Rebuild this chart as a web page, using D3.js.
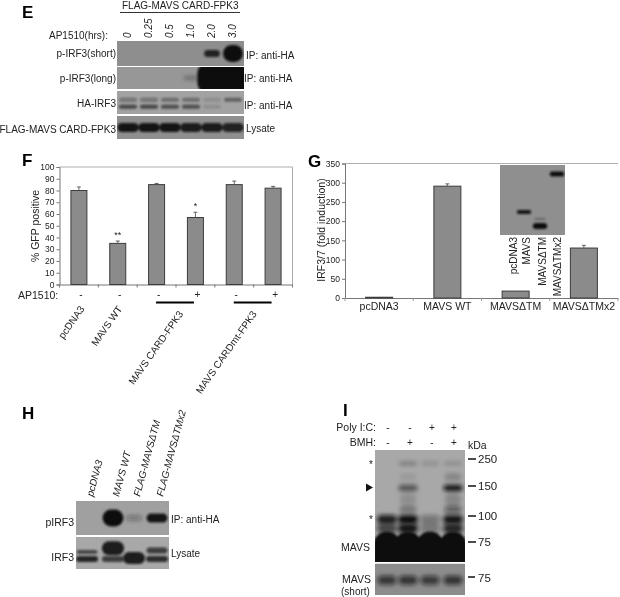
<!DOCTYPE html>
<html>
<head>
<meta charset="utf-8">
<script src="https://d3js.org/d3.v7.min.js"></script>
<style>
  html, body { margin: 0; padding: 0; background: #fff; }
  svg { display: block; filter: blur(0.4px); }
  text { font-family: "Liberation Sans", Arial, sans-serif; fill: #222; }
</style>
</head>
<body>
<svg width="620" height="597"></svg>
<script>

// panel F
var gfpNames = ["pcDNA3", "MAVS WT", "MAVS CARD-FPK3", "", "MAVS CARDmt-FPK3", ""];
var gfpValues = [80, 35, 85, 57, 85, 82];
var gfpErrors = [3, 2, 1, 4.5, 3, 1.5];
var gfpStars = ["", "**", "", "*", "", ""];
var gfpDrug = ["-", "-", "-", "+", "-", "+"];

// panel G
var irfNames = ["pcDNA3", "MAVS WT", "MAVS\u0394TM", "MAVS\u0394TMx2"];
var irfValues = [2, 291, 18, 130];
var irfErrors = [0, 6, 0, 7];
var insetNames = ["pcDNA3", "MAVS", "MAVS\u0394TM", "MAVS\u0394TMx2"];

// blots: band strength per lane, one array per band
var eHours = ["0", "0.25", "0.5", "1.0", "2.0", "3.0"];
var eShort = [0, 0, 0, 0, 0.85, 1];
var eLong = [0, 0, 0, 0.3, 1, 1];
var eHaUpper = [0.35, 0.35, 0.33, 0.33, 0.12, 0.4];
var eHaLower = [0.65, 0.65, 0.6, 0.6, 0.12, 0];
var eLysate = [0.95, 0.95, 0.95, 0.9, 0.9, 0.85];
var gInset = [0, 0.95, 1, 1];
var hNames = ["pcDNA3", "MAVS WT", "FLAG-MAVS\u0394TM", "FLAG-MAVS\u0394TMx2"];
var hPhospho = [0, 1, 0.35, 0.95];
var hUpper = [0.65, 0.9, 0, 0.7];
var hLower = [0.85, 0.7, 0.9, 0.8];
var iPoly = ["-", "-", "+", "+"];
var iBmh = ["-", "+", "-", "+"];
var iKda250 = [0, 0.28, 0.16, 0.18];
var iKda190 = [0, 0.08, 0, 0.2];
var iKda150 = [0, 0.6, 0, 1];
var iKda130 = [0, 0.15, 0, 0.2];
var iKda120 = [0, 0.3, 0, 0.5];
var iKda100 = [0.9, 1, 0.35, 0.95];
var iKda95 = [0.65, 0.95, 0.35, 0.85];
var iKda75 = [1, 1, 1, 1];
var iShort = [0.7, 0.72, 0.68, 0.72];
var iMarkers = ["250", "150", "100", "75"];
var iMarkerKda = [250, 150, 100, 75];

var svg = d3.select("svg");
var defs = svg.append("defs");
[["soft", 1.1], ["softer", 2.1]].forEach(function(f) {
  defs.append("filter").attr("id", f[0]).attr("x", "-40%").attr("y", "-80%").attr("width", "180%").attr("height", "260%")
      .append("feGaussianBlur").attr("stdDeviation", f[1]);
});

function label(x, y, str, size, anchor) {
  return svg.append("text").attr("x", x).attr("y", y)
      .attr("text-anchor", anchor || "start")
      .style("font-size", (size || 10) + "px")
      .text(str);
}

function only(values, lanes) {
  return values.map(function(d, i) { return lanes.indexOf(i) >= 0 ? d : 0; });
}

var clipCount = 0;
// box: x, y, w, h, bg. rows: values, level (0-1 down the panel), thick, wide (share of a lane)
function blot(box, centers, rows) {
  var id = "clip" + (clipCount++);
  defs.append("clipPath").attr("id", id).append("rect")
      .attr("x", box.x).attr("y", box.y).attr("width", box.w).attr("height", box.h);
  var g = svg.append("g").attr("clip-path", "url(#" + id + ")");
  g.append("rect").attr("x", box.x).attr("y", box.y).attr("width", box.w).attr("height", box.h).attr("fill", box.bg);
  var y = d3.scaleLinear().domain([0, 1]).range([box.y, box.y + box.h]);
  var laneGap = centers[1] - centers[0];
  rows.forEach(function(row) {
    var w = laneGap * row.wide;
    g.append("g").attr("filter", "url(#" + (row.blur || "soft") + ")").selectAll("rect")
      .data(row.values)
      .enter().append("rect")
        .attr("x", function(d, i) { return centers[i] - w / 2; })
        .attr("y", function(d) { return y(row.level) - row.thick / 2; })
        .attr("width", w)
        .attr("height", row.thick)
        .attr("rx", Math.min(w, row.thick) / 2)
        .attr("fill", "#101010")
        .attr("opacity", function(d) { return d; });
  });
}

/* ---------- E ---------- */
label(22, 18, "E", 17).style("font-weight", "bold").style("fill", "#000");
label(122, 9, "FLAG-MAVS CARD-FPK3", 10);
svg.append("line").attr("x1", 120).attr("x2", 240).attr("y1", 12.5).attr("y2", 12.5).attr("stroke", "#333").attr("stroke-width", 1);
label(49, 39, "AP1510(hrs):", 10);

var eLanes = d3.scalePoint().domain(d3.range(6)).range([128, 233]);
var eCenters = eHours.map(function(d, i) { return eLanes(i); });
svg.selectAll(".hour").data(eHours).enter().append("text")
    .attr("class", "hour")
    .attr("transform", function(d, i) { return "translate(" + (eLanes(i) + 3) + ",38) rotate(-90)"; })
    .style("font-size", "10px").style("font-style", "italic")
    .text(function(d) { return d; });

blot({x: 117, y: 41, w: 127, h: 25, bg: "#8e8e8e"}, eCenters,
  [{values: only(eShort, [4]), level: 0.5, thick: 7, wide: 0.75},
   {values: only(eShort, [5]), level: 0.5, thick: 17, wide: 0.95}]);
blot({x: 117, y: 67, w: 127, h: 22, bg: "#979797"}, eCenters,
  [{values: only(eLong, [3]), level: 0.5, thick: 4, wide: 0.7, blur: "softer"},
   {values: only(eLong, [4, 5]), level: 0.5, thick: 36, wide: 1.4}]);
blot({x: 117, y: 91, w: 127, h: 23, bg: "#a2a2a2"}, eCenters,
  [{values: eHaUpper, level: 0.38, thick: 4, wide: 0.85},
   {values: eHaLower, level: 0.68, thick: 4, wide: 0.85}]);
blot({x: 117, y: 116, w: 127, h: 23, bg: "#8f8f8f"}, eCenters,
  [{values: eLysate, level: 0.5, thick: 9, wide: 1.02}]);

label(116, 57, "p-IRF3(short)", 10, "end");
label(116, 82, "p-IRF3(long)", 10, "end");
label(116, 107, "HA-IRF3", 10, "end");
label(116, 133, "FLAG-MAVS CARD-FPK3", 10, "end");
label(246, 59, "IP: anti-HA", 10);
label(244, 82, "IP: anti-HA", 10);
label(244, 109, "IP: anti-HA", 10);
label(246, 132, "Lysate", 10);

/* ---------- F ---------- */
label(22, 166, "F", 17).style("font-weight", "bold").style("fill", "#000");

var fx = d3.scaleBand().domain(d3.range(gfpValues.length)).range([59.5, 292.5]);
var fy = d3.scaleLinear().domain([0, 100]).range([284.5, 167]);
var fBarW = 16;

var fPanel = svg.append("g");
fPanel.append("path").attr("d", "M59.5,167H292.5V284.5").attr("fill", "none").attr("stroke", "#999").attr("stroke-width", 0.8);
var fYAxis = fPanel.append("g").attr("transform", "translate(59.5,0)")
    .call(d3.axisLeft(fy).ticks(10).tickSize(3).tickPadding(2));
var fXAxis = fPanel.append("g").attr("transform", "translate(0,284.5)")
    .call(d3.axisBottom(fx).tickValues([]).tickSizeOuter(0));
fPanel.selectAll(".fedge").data(d3.range(7)).enter().append("line")
    .attr("class", "fedge")
    .attr("x1", function(d) { return fx.range()[0] + d * fx.step(); })
    .attr("x2", function(d) { return fx.range()[0] + d * fx.step(); })
    .attr("y1", 284.5).attr("y2", 287.5).attr("stroke", "#777");
fYAxis.selectAll("text").style("font-size", "8.5px");
fPanel.selectAll(".domain").attr("stroke", "#777");
fPanel.selectAll(".tick line").attr("stroke", "#777");

var fCenter = function(i) { return fx(i) + fx.bandwidth() / 2; };

fPanel.selectAll(".bar").data(gfpValues).enter().append("rect")
    .attr("class", "bar")
    .attr("x", function(d, i) { return fCenter(i) - fBarW / 2; })
    .attr("y", function(d) { return fy(d); })
    .attr("width", fBarW)
    .attr("height", function(d) { return fy(0) - fy(d); })
    .attr("fill", "#8b8b8b").attr("stroke", "#3c3c3c").attr("stroke-width", 1);

fPanel.selectAll(".err").data(gfpErrors).enter().append("path")
    .attr("class", "err")
    .attr("d", function(d, i) {
      var c = fCenter(i), t = fy(gfpValues[i] + d), b = fy(gfpValues[i]);
      return "M" + c + "," + b + "V" + t + "M" + (c - 2) + "," + t + "H" + (c + 2);
    })
    .attr("fill", "none").attr("stroke", "#555").attr("stroke-width", 0.9);

fPanel.selectAll(".star").data(gfpStars).enter().append("text")
    .attr("class", "star")
    .attr("x", function(d, i) { return fCenter(i); })
    .attr("y", function(d, i) { return fy(gfpValues[i] + gfpErrors[i]) - 3; })
    .attr("text-anchor", "middle")
    .style("font-size", "9px")
    .text(function(d) { return d; });

svg.append("text")
    .attr("transform", "translate(39,226) rotate(-90)")
    .attr("text-anchor", "middle")
    .style("font-size", "10.5px")
    .text("% GFP positive");

label(18, 299, "AP1510:", 10.5);
svg.selectAll(".drug").data(gfpDrug).enter().append("text")
    .attr("class", "drug")
    .attr("x", function(d, i) { return fCenter(i) + 2; })
    .attr("y", 298)
    .attr("text-anchor", "middle")
    .style("font-size", "10px")
    .text(function(d) { return d; });

[[2, 3], [4, 5]].forEach(function(p) {
  svg.append("line")
      .attr("x1", fCenter(p[0]) - 0.5).attr("x2", fCenter(p[1]) - 1.5)
      .attr("y1", 302.5).attr("y2", 302.5)
      .attr("stroke", "#000").attr("stroke-width", 2);
});

var fNameShift = [6, 5, 27, 0, 23, 0];
svg.selectAll(".fname").data(gfpNames).enter().append("text")
    .attr("class", "fname")
    .attr("transform", function(d, i) {
      return "translate(" + (fCenter(i) + fNameShift[i]) + "," + (i >= 2 ? 314 : 309) + ") rotate(-55)";
    })
    .attr("text-anchor", "end")
    .style("font-size", "10px")
    .text(function(d) { return d; });

/* ---------- G ---------- */
label(308, 167, "G", 17).style("font-weight", "bold").style("fill", "#000");

var gx = d3.scaleBand().domain(irfNames).range([345, 618]);
var gy = d3.scaleLinear().domain([0, 350]).range([298, 163.5]);
var gBarW = 27;

var gPanel = svg.append("g");
gPanel.append("line").attr("x1", 345).attr("x2", 618).attr("y1", 163.5).attr("y2", 163.5).attr("stroke", "#999").attr("stroke-width", 0.8);
var gYAxis = gPanel.append("g").attr("transform", "translate(345,0)")
    .call(d3.axisLeft(gy).ticks(7).tickSize(3).tickPadding(2));
var gXAxis = gPanel.append("g").attr("transform", "translate(0,298)")
    .call(d3.axisBottom(gx).tickSize(0).tickPadding(5).tickSizeOuter(0));
gYAxis.selectAll("text").style("font-size", "8.5px");
gXAxis.selectAll("text").style("font-size", "10.5px");
gPanel.selectAll(".domain").attr("stroke", "#777");
gPanel.selectAll(".tick line").attr("stroke", "#777");
gPanel.selectAll(".gedge").data(d3.range(5)).enter().append("line")
    .attr("class", "gedge")
    .attr("x1", function(d) { return 345 + d * gx.step(); })
    .attr("x2", function(d) { return 345 + d * gx.step(); })
    .attr("y1", 298).attr("y2", 301).attr("stroke", "#999");

gPanel.selectAll(".bar").data(irfValues).enter().append("rect")
    .attr("class", "bar")
    .attr("x", function(d, i) { return gx(irfNames[i]) + gx.bandwidth() / 2 - gBarW / 2; })
    .attr("y", function(d) { return gy(d); })
    .attr("width", gBarW)
    .attr("height", function(d) { return gy(0) - gy(d); })
    .attr("fill", "#8b8b8b").attr("stroke", "#3c3c3c").attr("stroke-width", 1);

gPanel.selectAll(".err").data(irfErrors).enter().append("path")
    .attr("class", "err")
    .attr("d", function(d, i) {
      if (!d) return null;
      var c = gx(irfNames[i]) + gx.bandwidth() / 2, t = gy(irfValues[i] + d), b = gy(irfValues[i]);
      return "M" + c + "," + b + "V" + t + "M" + (c - 2) + "," + t + "H" + (c + 2);
    })
    .attr("fill", "none").attr("stroke", "#555").attr("stroke-width", 0.9);

svg.append("text")
    .attr("transform", "translate(325,230) rotate(-90)")
    .attr("text-anchor", "middle")
    .style("font-size", "10.5px")
    .text("IRF3/7 (fold induction)");

// inset gel, one band per lane at its own height
var insetLanes = [508, 524, 540, 557];
var insetLevels = [0.67, 0.67, 0.87, 0.13];
var insetThick = [4, 4, 6, 5];
var insetTextX = [517, 530, 546, 561];
blot({x: 500, y: 165, w: 65, h: 70, bg: "#8f8f8f"}, insetLanes, gInset.map(function(d, i) {
  return { values: only(gInset, [i]), level: insetLevels[i], thick: insetThick[i], wide: 0.9 };
}).concat([{values: only([0, 0, 0.3, 0], [2]), level: 0.77, thick: 2, wide: 0.7}]));
svg.selectAll(".insetName").data(insetNames).enter().append("text")
    .attr("class", "insetName")
    .attr("transform", function(d, i) { return "translate(" + insetTextX[i] + ",237) rotate(-90)"; })
    .attr("text-anchor", "end")
    .style("font-size", "10px")
    .text(function(d) { return d; });

/* ---------- H ---------- */
label(22, 419, "H", 17).style("font-weight", "bold").style("fill", "#000");
var hLanes = [87, 113, 134, 157];
svg.selectAll(".hname").data(hNames).enter().append("text")
    .attr("class", "hname")
    .attr("transform", function(d, i) { return "translate(" + (hLanes[i] + 6) + ",497) rotate(-75)"; })
    .style("font-size", "10px").style("font-style", "italic")
    .text(function(d) { return d; });
blot({x: 76, y: 501, w: 93, h: 34, bg: "#a0a0a0"}, hLanes,
  [{values: only(hPhospho, [1]), level: 0.5, thick: 17, wide: 0.8},
   {values: only(hPhospho, [2]), level: 0.5, thick: 5, wide: 0.6, blur: "softer"},
   {values: only(hPhospho, [3]), level: 0.5, thick: 9, wide: 0.8}]);
blot({x: 76, y: 537, w: 93, h: 32, bg: "#a8a8a8"}, hLanes,
  [{values: only(hUpper, [1]), level: 0.35, thick: 14, wide: 0.85},
   {values: only(hUpper, [0]), level: 0.47, thick: 4, wide: 0.8},
   {values: only(hUpper, [3]), level: 0.42, thick: 6, wide: 0.8},
   {values: only(hLower, [0, 1, 3]), level: 0.69, thick: 6, wide: 0.85},
   {values: only(hLower, [2]), level: 0.66, thick: 12, wide: 0.85}]);
label(74, 526, "pIRF3", 10.5, "end");
label(74, 561, "IRF3", 10.5, "end");
label(171, 523, "IP: anti-HA", 10);
label(171, 557, "Lysate", 10);

/* ---------- I ---------- */
label(343, 416, "I", 17).style("font-weight", "bold").style("fill", "#000");
var iLanes = [387, 408, 430, 453];
var iSignX = [388, 410, 432, 454];
label(376, 431, "Poly I:C:", 10.5, "end");
label(376, 446, "BMH:", 10.5, "end");
svg.selectAll(".ipoly").data(iPoly).enter().append("text")
    .attr("class", "ipoly").attr("x", function(d, i) { return iSignX[i]; }).attr("y", 431)
    .attr("text-anchor", "middle").style("font-size", "10px").text(function(d) { return d; });
svg.selectAll(".ibmh").data(iBmh).enter().append("text")
    .attr("class", "ibmh").attr("x", function(d, i) { return iSignX[i]; }).attr("y", 446)
    .attr("text-anchor", "middle").style("font-size", "10px").text(function(d) { return d; });

var kdaY = d3.scaleLog().domain(iMarkerKda).range([459, 486, 516, 542]);
blot({x: 375, y: 450, w: 90, h: 112, bg: "#a8a8a8"}, iLanes,
  [{values: iKda250, level: 0.12, thick: 4, wide: 0.85, blur: "softer"},
   {values: iKda190, level: 0.24, thick: 8, wide: 0.8, blur: "softer"},
   {values: iKda150, level: 0.34, thick: 6, wide: 0.9, blur: "softer"},
   {values: iKda130, level: 0.44, thick: 12, wide: 0.8, blur: "softer"},
   {values: iKda120, level: 0.53, thick: 7, wide: 0.8, blur: "softer"},
   {values: iKda100, level: 0.62, thick: 9, wide: 0.95, blur: "softer"},
   {values: iKda95, level: 0.7, thick: 10, wide: 0.95, blur: "softer"},
   {values: iKda75, level: 0.95, thick: 50, wide: 1.3}]);
blot({x: 375, y: 563.5, w: 90, h: 31.5, bg: "#8c8c8c"}, iLanes,
  [{values: iShort, level: 0.53, thick: 9, wide: 0.9, blur: "softer"}]);

svg.selectAll(".kdaTick").data(iMarkerKda).enter().append("line")
    .attr("class", "kdaTick")
    .attr("x1", 468).attr("x2", 476)
    .attr("y1", function(d) { return kdaY(d); })
    .attr("y2", function(d) { return kdaY(d); })
    .attr("stroke", "#111").attr("stroke-width", 1.5);
svg.selectAll(".kdaText").data(iMarkers).enter().append("text")
    .attr("class", "kdaText")
    .attr("x", 478)
    .attr("y", function(d, i) { return kdaY(iMarkerKda[i]) + 4; })
    .style("font-size", "11.5px")
    .text(function(d) { return d; });
label(468, 449, "kDa", 10.5);
svg.append("line").attr("x1", 468).attr("x2", 475).attr("y1", 577).attr("y2", 577).attr("stroke", "#111").attr("stroke-width", 1.5);
label(478, 582, "75", 11.5);
label(373, 468, "*", 10, "end");
label(373, 523, "*", 10, "end");
svg.append("path").attr("d", d3.line()([[366, 483.5], [373, 487.5], [366, 491.5]]) + "Z").attr("fill", "#111");
label(341, 551, "MAVS", 10.5);
label(342, 583, "MAVS", 10.5);
label(341, 595, "(short)", 10);

</script>
</body>
</html>
